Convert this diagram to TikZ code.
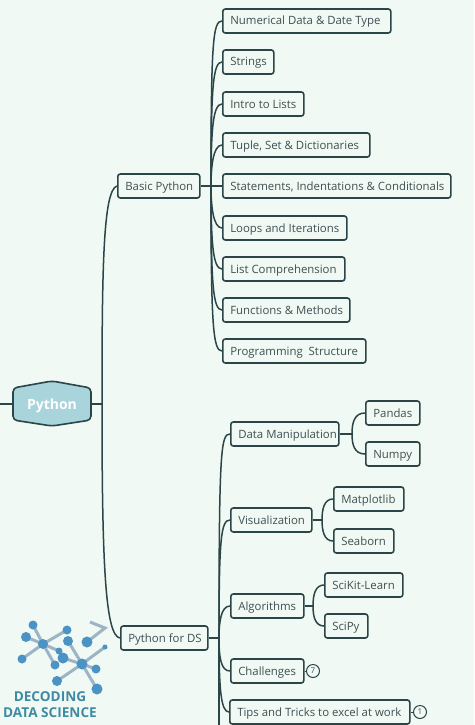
\documentclass[tikz,border=0pt]{standalone}
\usepackage{fontspec}
\setmainfont{Open Sans}
\usetikzlibrary{calc}
\definecolor{bgc}{HTML}{F0F9F3}
\definecolor{linec}{HTML}{2C4548}
\definecolor{textc}{HTML}{3F4F52}
\definecolor{hexc}{HTML}{A9D4DB}
\definecolor{logoc}{HTML}{4A93C4}
\definecolor{logoa}{HTML}{9DB4C6}
\definecolor{logot}{HTML}{3F8BA3}
\tikzset{
  box/.style={draw=linec,line width=1.6pt,rounded corners=2.5pt,fill=bgc,text=textc,font=\fontsize{11.4}{13}\selectfont,minimum height=24pt,inner xsep=0pt,inner ysep=0pt,anchor=west,text height=11pt,text depth=3pt},
  conn/.style={draw=linec,line width=1.5pt},
  num/.style={circle,draw=linec,line width=1pt,minimum size=13pt,inner sep=0pt,text=textc,font=\fontsize{8}{9}\selectfont},
  spoke/.style={draw=logoa,line width=3pt},
  atom/.style={circle,fill=logoc,inner sep=0pt,minimum size=#1},
  logotext/.style={text=logot,font=\fontsize{13.6}{15}\bfseries\selectfont,inner sep=0pt}
}
% \crv{hub}{node}{fraction}: curved branch from a hub to the west side of a node
\newcommand{\crv}[3]{\draw[conn] (#1) .. controls ($(#1)!#3!(#1|-#2.west)$) and ($(#1|-#2.west)+(2,0)$) .. (#2.west);}
\newcommand{\bx}[4]{\node[box] (#1) at (#2) {\makebox[#3pt][l]{\hspace{7.5pt}#4}};}
\begin{document}
\begin{tikzpicture}[x=1pt,y=-1pt]
\useasboundingbox (0,0) rectangle (474,725);
\fill[bgc] (0,0) rectangle (474,725);
% coordinates
\coordinate (hubA) at (211,186);
\coordinate (hubB) at (219,638);
\coordinate (spine) at (102,404);
\coordinate (stub) at (0,404);
\coordinate (hubC) at (352,434);
\coordinate (hubD) at (322,520);
\coordinate (hubE) at (313,606);
\coordinate (tail) at (219,725);
% central topic
\draw[line width=1.6pt,draw=linec,fill=hexc,rounded corners=4pt] (13,388) -- (52,381) -- (91,388) -- (91,420) -- (52,426) -- (13,420) -- cycle;
\node[minimum width=78pt,minimum height=45pt,inner sep=0pt,text=white,font=\fontsize{14}{16}\bfseries\selectfont,text height=14.5pt,text depth=3pt] (py) at (52,404) {Python};
% boxes
\bx{bp}{117,186}{82}{Basic Python}
\bx{ds}{120,638}{87}{Python for DS}
\bx{a1}{222,21}{168}{Numerical Data \& Date Type}
\bx{a2}{222,62}{51}{Strings}
\bx{a3}{222,104}{81}{Intro to Lists}
\bx{a4}{222,145}{147}{Tuple, Set \& Dictionaries}
\bx{a5}{222,186}{228}{Statements, Indentations \& Conditionals}
\bx{a6}{222,228}{124}{Loops and Iterations}
\bx{a7}{222,269}{122}{List Comprehension}
\bx{a8}{222,310}{127}{Functions \& Methods}
\bx{a9}{222,351}{143}{Programming\ \ Structure}
\bx{b1}{230,434}{108}{Data Manipulation}
\bx{b2}{230,520}{81}{Visualization}
\bx{b3}{230,606}{73}{Algorithms}
\bx{b4}{230,671}{73}{Challenges}
\bx{b5}{229,712}{180}{Tips and Tricks to excel at work}
\bx{c1}{365,413}{54}{Pandas}
\bx{c2}{365,454}{54}{Numpy}
\bx{d1}{333,499}{70}{Matplotlib}
\bx{d2}{333,541}{60}{Seaborn}
\bx{e1}{324,585}{78}{SciKit-Learn}
\bx{e2}{324,626}{43}{SciPy}
\node[num] (n1) at (313,671) {7};
\node[num] (n2) at (420,712) {1};
% connectors
\draw[conn] (stub) -- (py.west);
\draw[conn] (py.east) -- (spine);
\draw[conn] (spine) .. controls (102,270) and (103,190) .. (bp.west);
\draw[conn] (spine) .. controls (102,560) and (105,636) .. (ds.west);
\draw[conn,line width=2pt] (bp.east) -- (a5.west);
\foreach \n/\f in {a1/0.88,a2/0.8,a3/0.7,a4/0.45,a6/0.45,a7/0.7,a8/0.8,a9/0.85} {\crv{hubA}{\n}{\f}}
\draw[conn,line width=2pt] (ds.east) -- (hubB);
\foreach \n/\f in {b1/0.93,b2/0.85,b3/0.5,b4/0.6,b5/0.7} {\crv{hubB}{\n}{\f}}
\draw[conn] (hubB) -- (tail);
\draw[conn] (b1.east) -- (hubC);
\crv{hubC}{c1}{0.5}\crv{hubC}{c2}{0.5}
\draw[conn] (b2.east) -- (hubD);
\crv{hubD}{d1}{0.5}\crv{hubD}{d2}{0.5}
\draw[conn] (b3.east) -- (hubE);
\crv{hubE}{e1}{0.5}\crv{hubE}{e2}{0.5}
\draw[draw=linec,line width=1pt] (b4.east) -- (n1.west);
\draw[draw=linec,line width=1pt] (b5.east) -- (n2.west);
% logo
\foreach \x/\y in {33/625,26/637,67/630,22/659,55/665,59/651} {\draw[spoke] (43,644) -- (\x,\y);}
\foreach \x/\y in {68/641,63/658,96/669,57/681,97/689,105/647} {\draw[spoke] (82,664) -- (\x,\y);}
\draw[spoke,line width=3pt] (87,642) -- (105,628) -- (90,622);
\foreach \x/\y/\s in {33/625/9pt,26/637/10pt,67/630/9pt,22/659/9pt,55/665/9pt,59/651/7pt,43/644/10pt,68/641/10pt,63/658/11pt,96/669/9pt,57/681/10pt,97/689/11pt,105/647/5pt,87/642/11pt,82/664/11pt}
  {\node[atom=\s] at (\x,\y) {};}
\node[logotext] (l1) at (50,697) {DECODING};
\node[logotext] (l2) at (50,713) {DATA SCIENCE};
\end{tikzpicture}
\end{document}
